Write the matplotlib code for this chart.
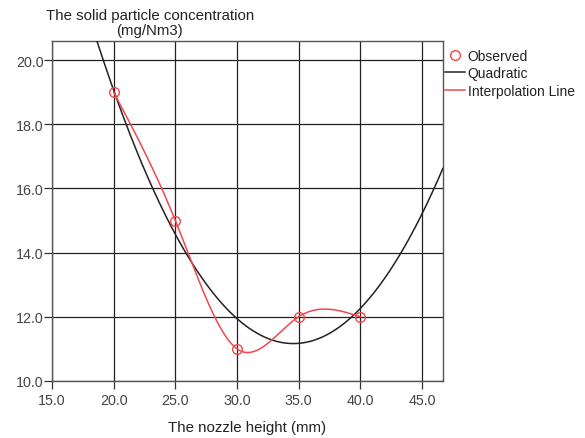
import numpy as np
import matplotlib
matplotlib.use("Agg")
import matplotlib.pyplot as plt
from matplotlib.lines import Line2D

plt.rcParams['font.family'] = ['Liberation Sans', 'DejaVu Sans']

height = np.array([20., 25., 30., 35., 40.])
conc = np.array([19., 15., 11., 12., 12.])
xticks = [15.0, 20.0, 25.0, 30.0, 35.0, 40.0, 45.0]
yticks = [10.0, 12.0, 14.0, 16.0, 18.0, 20.0]


def natural_spline(x, y, xx):
    n = len(x)
    h = np.diff(x)
    A = np.zeros((n, n))
    r = np.zeros(n)
    A[0, 0] = A[-1, -1] = 1.
    for i in range(1, n-1):
        A[i, i-1] = h[i-1]
        A[i, i] = 2.*(h[i-1]+h[i])
        A[i, i+1] = h[i]
        r[i] = 6.*((y[i+1]-y[i])/h[i] - (y[i]-y[i-1])/h[i-1])
    M = np.linalg.solve(A, r)
    idx = np.clip(np.searchsorted(x, xx) - 1, 0, n-2)
    x0, x1 = x[idx], x[idx+1]
    hi = x1 - x0
    t0, t1 = x1 - xx, xx - x0
    return (M[idx]*t0**3/(6*hi) + M[idx+1]*t1**3/(6*hi)
            + (y[idx]/hi - M[idx]*hi/6)*t0 + (y[idx+1]/hi - M[idx+1]*hi/6)*t1)


fig = plt.figure(figsize=(5.85, 4.39), dpi=100)
ax = fig.add_axes([0.089, 0.13, 0.668, 0.7745])

coef = np.polyfit(height, conc, 2)
xq = np.linspace(15, 46.7, 400)
ax.plot(xq, np.polyval(coef, xq), color='#222222', lw=1.1, zorder=3)

xs = np.linspace(20, 40, 300)
ax.plot(xs, natural_spline(height, conc, xs), color='#f0484e', lw=1.1, zorder=4)

ax.plot(height, conc, 'o', mfc='none', mec='#f0484e', ms=7, mew=1.0, zorder=5)

ax.set_xlim(15, 46.7)
ax.set_ylim(10, 20.6)
ax.set_xticks(xticks)
ax.set_yticks(yticks)
ax.set_xticklabels(['%.1f' % v for v in xticks])
ax.set_yticklabels(['%.1f' % v for v in yticks])
ax.grid(True, color='#222222', lw=0.9)
ax.set_axisbelow(True)
ax.tick_params(direction='out', length=6, width=0.9, color='#333333',
               labelsize=10.3, labelcolor='#444444')
ax.tick_params(axis='x', pad=3)
ax.tick_params(axis='y', pad=0)
for s in ax.spines.values():
    s.set_color('#555555')
    s.set_linewidth(1.0)

ax.set_xlabel('The nozzle height (mm)', fontsize=10.8, color='#222222', labelpad=9)
fig.text(0.256, 0.946, 'The solid particle concentration\n(mg/Nm3)', ha='center',
         va='center', fontsize=10.8, color='#222222', linespacing=1.05)

handles = [Line2D([], [], ls='none', marker='o', mfc='none', mec='#f0484e', ms=7),
           Line2D([], [], color='#222222', lw=1.1),
           Line2D([], [], color='#f0484e', lw=1.1)]
fig.legend(handles, ['Observed', 'Quadratic', 'Interpolation Line'],
           loc='upper left', bbox_to_anchor=(0.74, 0.915), frameon=False,
           fontsize=10.0, handlelength=1.4, handletextpad=0.2, labelspacing=0.25,
           labelcolor='#222222')

fig.savefig('out.png', dpi=100)
